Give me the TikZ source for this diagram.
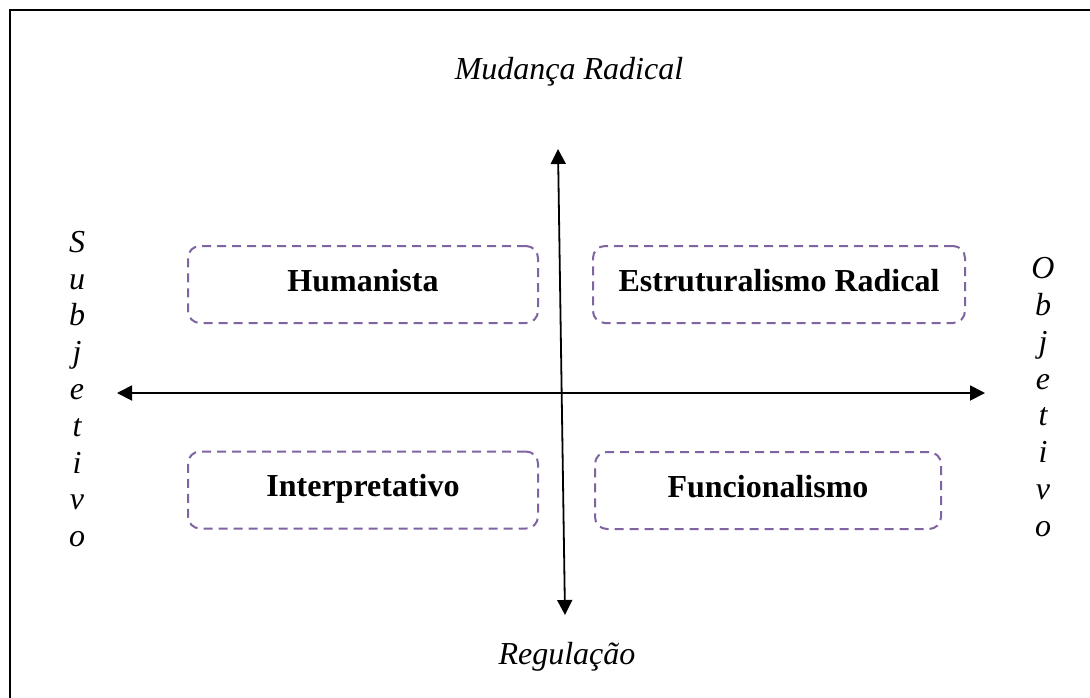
\documentclass[tikz,border=0pt]{standalone}
\usepackage{fontspec}
\setmainfont{Liberation Serif}
\usetikzlibrary{arrows.meta}
\definecolor{boxpurple}{HTML}{8064A2}
\begin{document}
\begin{tikzpicture}[x=0.5pt,y=-0.5pt,
  quad/.style={draw=boxpurple, line width=1pt, dash pattern=on 4.5pt off 3pt,
    rounded corners=6pt, minimum height=38.5pt, font=\fontsize{16}{19}\selectfont\bfseries,
    inner sep=0pt, text height=10pt, text depth=3.5pt},
  axis/.style={line width=0.9pt, {Triangle[length=7.5pt,width=7.5pt]}-{Triangle[length=7.5pt,width=7.5pt]}},
  axlabel/.style={font=\fontsize{16}{19}\selectfont\itshape, inner sep=0pt},
  vlabel/.style={font=\fontsize{16}{18.4}\selectfont\itshape, align=center, inner sep=0pt}]
\useasboundingbox (0,0) rectangle (1090,697);
\fill[white] (0,0) rectangle (1090,697);
% frame
\draw[line width=1.2pt] (10,700) -- (10,10) -- (1095,10);
% labels
\node[axlabel] (top) at (569,72) {Mudança Radical};
\node[axlabel] (bot) at (567,657) {Regulação};
\node[vlabel] (subj) at (77,389) {S\\u\\b\\j\\e\\t\\i\\v\\o};
\node[vlabel] (obj) at (1043,397) {O\\b\\j\\e\\t\\i\\v\\o};
% boxes
\node[quad, minimum width=175pt] (hum) at (363,284.5) {Humanista};
\node[quad, minimum width=186pt] (est) at (779,284.5) {Estruturalismo Radical};
\node[quad, minimum width=175pt] (int) at (363,490) {Interpretativo};
\node[quad, minimum width=173pt] (fun) at (768,490.5) {Funcionalismo};
% axes
\coordinate (vt) at (558,149);
\coordinate (vb) at (565,615);
\coordinate (hl) at (117,393);
\coordinate (hr) at (985,393);
\draw[axis] (vb) -- (vt);
\draw[axis] (hl) -- (hr);
\end{tikzpicture}
\end{document}
